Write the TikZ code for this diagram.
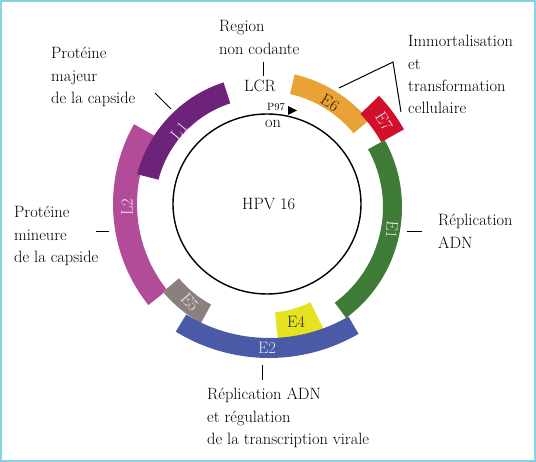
\documentclass[tikz,border=0pt]{standalone}
\usepackage{fontspec}
\definecolor{frameC}{HTML}{86D3E2}
\definecolor{cL1}{HTML}{6C2379}
\definecolor{cL2}{HTML}{B24C98}
\definecolor{cE6}{HTML}{E8A236}
\definecolor{cE7}{HTML}{D2102C}
\definecolor{cE1}{HTML}{3E7B37}
\definecolor{cE2}{HTML}{4A5AA6}
\definecolor{cE4}{HTML}{E6E21F}
\definecolor{cE5}{HTML}{8C807E}
\newcommand\annsec[5]{\fill[#1] (#2:#4pt) arc[start angle=#2, end angle=#3, radius=#4pt] -- (#3:#5pt) arc[start angle=#3, end angle=#2, radius=#5pt] -- cycle;}
\begin{document}
\begin{tikzpicture}[x=1pt,y=-1pt,
  lbl/.style={anchor=base west, inner sep=0, font=\fontsize{16.4}{22.3}\selectfont},
  blbl/.style={inner sep=0, font=\fontsize{16.5}{16.5}\selectfont},
  tickln/.style={line width=1pt, black}]
\useasboundingbox (0,0) rectangle (536,462);
\draw[frameC, line width=2pt] (1,1) rectangle (535,461);

% bands
\begin{scope}[shift={(275,204)}]
  \annsec{cL2}{150.5}{218.6}{138}{162}
\end{scope}
\begin{scope}[shift={(264,207)}]
  \annsec{cL1}{108}{165.5}{109}{131}
  \annsec{cE6}{39.5}{77}{116}{136}
  \annsec{cE7}{29}{44}{134}{160}
  \annsec{cE1}{-53.5}{29}{119}{138}
  \annsec{cE4}{-84}{-64}{106}{136}
  \annsec{cE5}{-140}{-118.5}{111}{132}
\end{scope}
\begin{scope}[shift={(269,180)}]
  \annsec{cE2}{-121.6}{-59.8}{158}{178}
\end{scope}

% inner circle
\coordinate (ctr) at (267,204);
\draw[line width=1.4pt] (ctr) ellipse [x radius=94pt, y radius=90pt];
\fill (288,106) -- (297,110.5) -- (288,115) -- cycle;

% band labels
\node[blbl, text=white!85!cL1, rotate=50] (tL1) at (179,131) {L1};
\node[blbl, text=white!85!cL2, rotate=90] (tL2) at (127,207) {L2};
\node[blbl, text=white!85!cE5, rotate=-48] (tE5) at (190,302) {E5};
\node[blbl, text=white!85!cE2] (tE2) at (267,348) {E2};
\node[blbl, text=black!85] (tE4) at (296,322) {E4};
\node[blbl, text=white!85!cE1, rotate=-95] (tE1) at (392,230) {E1};
\node[blbl, text=black!80!cE6, rotate=-32] (tE6) at (330,103) {E6};
\node[blbl, text=white!90!cE7, rotate=-58] (tE7) at (384,121) {E7};

% texts
\node[lbl] (reg) at (219,32) {\vtop{\hbox{Region}\hbox{non codante}}};
\node[lbl] (lcr) at (244,92) {LCR};
\node[lbl, font=\fontsize{10.5}{12}\selectfont] (p97) at (267,111) {P97};
\node[lbl] (on) at (265,128) {on};
\node[lbl] (hpv) at (242,210) {HPV 16};
\node[lbl] (imm) at (408,47) {\vtop{\hbox{Immortalisation}\hbox{et}\hbox{transformation}\hbox{cellulaire}}};
\node[lbl] (pmaj) at (51,59) {\vtop{\hbox{Protéine}\hbox{majeur}\hbox{de la capside}}};
\node[lbl] (pmin) at (14,218) {\vtop{\hbox{Protéine}\hbox{mineure}\hbox{de la capside}}};
\node[lbl] (rep) at (438,226) {\vtop{\hbox{Réplication}\hbox{ADN}}};
\node[lbl] (rep2) at (207,400) {\vtop{\hbox{Réplication ADN}\hbox{et régulation}\hbox{de la transcription virale}}};

% ticks
\coordinate (a1) at (263,62); \coordinate (a2) at (263,76);
\draw[tickln] (a1) -- (a2);
\coordinate (b1) at (155,93); \coordinate (b2) at (171,109);
\draw[tickln] (b1) -- (b2);
\coordinate (c1) at (96,232); \coordinate (c2) at (109,232);
\draw[tickln] (c1) -- (c2);
\coordinate (d1) at (407,232); \coordinate (d2) at (422,232);
\draw[tickln] (d1) -- (d2);
\coordinate (e1) at (262,365); \coordinate (e2) at (262,380);
\draw[tickln] (e1) -- (e2);
\coordinate (v1) at (339,88); \coordinate (v2) at (393,62); \coordinate (v3) at (401,112);
\draw[tickln] (v1) -- (v2) -- (v3);
\end{tikzpicture}
\end{document}
